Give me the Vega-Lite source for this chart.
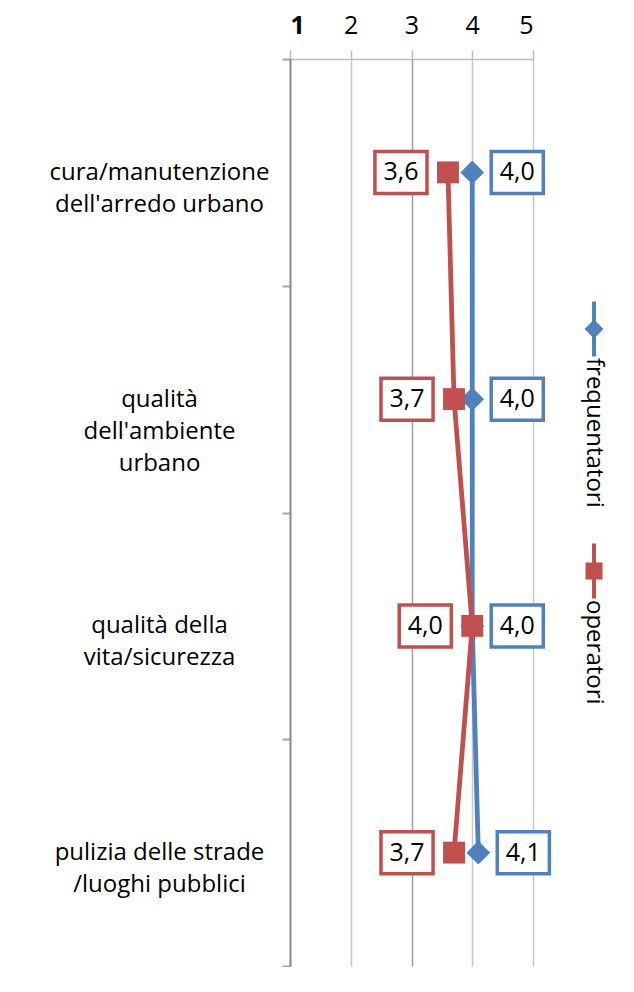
{
  "$schema": "https://vega.github.io/schema/vega-lite/v6.json",
  "padding": {"left": 49, "top": 13, "right": 20, "bottom": 0},
  "background": "white",
  "datasets": {
    "scores": [
      {"idx": 1, "cat": "cura/manutenzione\ndell'arredo urbano", "series": "frequentatori", "value": 4.0},
      {"idx": 2, "cat": "qualità\ndell'ambiente\nurbano", "series": "frequentatori", "value": 4.0},
      {"idx": 3, "cat": "qualità della\nvita/sicurezza", "series": "frequentatori", "value": 4.0},
      {"idx": 4, "cat": "pulizia delle strade\n/luoghi pubblici", "series": "frequentatori", "value": 4.1},
      {"idx": 1, "cat": "cura/manutenzione\ndell'arredo urbano", "series": "operatori", "value": 3.6},
      {"idx": 2, "cat": "qualità\ndell'ambiente\nurbano", "series": "operatori", "value": 3.7},
      {"idx": 3, "cat": "qualità della\nvita/sicurezza", "series": "operatori", "value": 4.0},
      {"idx": 4, "cat": "pulizia delle strade\n/luoghi pubblici", "series": "operatori", "value": 3.7}
    ],
    "series": [
      {"series": "frequentatori"},
      {"series": "operatori"}
    ]
  },
  "hconcat": [
    {
      "width": 243,
      "height": 907,
      "data": {"name": "scores"},
      "encoding": {
        "x": {
          "field": "value",
          "type": "quantitative",
          "scale": {"domain": [1, 5], "nice": false, "zero": false},
          "axis": {
            "orient": "top",
            "values": [1, 2, 3, 4, 5],
            "format": "d",
            "title": null,
            "labelFont": "Open Sans",
            "labelFontSize": 25,
            "labelFontWeight": {"condition": {"test": "datum.value == 1", "value": "bold"}, "value": "normal"},
            "labelColor": "#000000",
            "labelPadding": 12,
            "tickSize": 9,
            "tickColor": "#bdbdbd",
            "tickWidth": 1.5,
            "domainColor": "#bdbdbd",
            "domainWidth": 1.5,
            "grid": true,
            "gridColor": {"condition": {"test": "datum.value == 3", "value": "#9e9e9e"}, "value": "#c8c8c8"},
            "gridWidth": 1.5
          }
        },
        "y": {
          "field": "cat",
          "type": "nominal",
          "sort": null,
          "scale": {
            "type": "band",
            "domain": [
              "cura/manutenzione\ndell'arredo urbano",
              "qualità\ndell'ambiente\nurbano",
              "qualità della\nvita/sicurezza",
              "pulizia delle strade\n/luoghi pubblici"
            ],
            "paddingInner": 0,
            "paddingOuter": 0
          },
          "axis": {
            "title": null,
            "grid": false,
            "tickBand": "extent",
            "tickSize": 8,
            "tickColor": "#a6a6a6",
            "tickWidth": 2,
            "domainColor": "#8c8c8c",
            "domainWidth": 2,
            "labelExpr": "split(datum.label, '\\n')",
            "labelAlign": "center",
            "labelBaseline": "middle",
            "labelPadding": 123,
            "labelFont": "Open Sans",
            "labelFontSize": 24,
            "labelLineHeight": 32,
            "labelColor": "#000000",
            "labelLimit": 400
          }
        }
      },
      "layer": [
        {
          "mark": {"type": "line", "strokeWidth": 4.8},
          "encoding": {
            "color": {
              "field": "series",
              "type": "nominal",
              "scale": {"domain": ["frequentatori", "operatori"], "range": ["#4F81BD", "#C0504D"]},
              "legend": null
            },
            "order": {"field": "idx", "type": "quantitative"}
          }
        },
        {
          "mark": {"type": "point", "filled": true, "opacity": 1},
          "encoding": {
            "color": {
              "field": "series",
              "type": "nominal",
              "scale": {"domain": ["frequentatori", "operatori"], "range": ["#4F81BD", "#C0504D"]},
              "legend": null
            },
            "shape": {
              "field": "series",
              "type": "nominal",
              "scale": {"domain": ["frequentatori", "operatori"], "range": ["diamond", "square"]},
              "legend": null
            },
            "size": {
              "field": "series",
              "type": "nominal",
              "scale": {"domain": ["frequentatori", "operatori"], "range": [560, 480]},
              "legend": null
            }
          }
        },
        {
          "transform": [{"filter": "datum.series == 'operatori'"}],
          "mark": {
            "type": "point",
            "shape": "M-1.24,-1L1.24,-1L1.24,1L-1.24,1Z",
            "size": 1764,
            "filled": false,
            "fill": "#ffffff",
            "fillOpacity": 1,
            "stroke": "#C0504D",
            "strokeWidth": 3.5,
            "opacity": 1,
            "xOffset": -47
          }
        },
        {
          "transform": [{"filter": "datum.series == 'operatori'"}],
          "mark": {"type": "text", "font": "Open Sans", "fontSize": 25, "color": "#000000", "xOffset": -47, "baseline": "middle", "align": "center"},
          "encoding": {"text": {"field": "value", "type": "quantitative", "format": ".1f"}}
        },
        {
          "transform": [{"filter": "datum.series == 'frequentatori'"}],
          "mark": {
            "type": "point",
            "shape": "M-1.24,-1L1.24,-1L1.24,1L-1.24,1Z",
            "size": 1764,
            "filled": false,
            "fill": "#ffffff",
            "fillOpacity": 1,
            "stroke": "#4F81BD",
            "strokeWidth": 3.5,
            "opacity": 1,
            "xOffset": 45
          }
        },
        {
          "transform": [{"filter": "datum.series == 'frequentatori'"}],
          "mark": {"type": "text", "font": "Open Sans", "fontSize": 25, "color": "#000000", "xOffset": 45, "baseline": "middle", "align": "center"},
          "encoding": {"text": {"field": "value", "type": "quantitative", "format": ".1f"}}
        }
      ]
    },
    {
      "width": 20,
      "height": 726,
      "data": {"name": "series"},
      "encoding": {
        "y": {
          "field": "series",
          "type": "nominal",
          "sort": null,
          "scale": {"type": "point", "domain": ["frequentatori", "operatori"], "padding": 1},
          "axis": null
        }
      },
      "layer": [
        {
          "mark": {"type": "point", "shape": "M0,-1L0,1", "size": 3025, "filled": false, "strokeWidth": 4, "opacity": 1, "yOffset": 28},
          "encoding": {
            "stroke": {
              "field": "series",
              "type": "nominal",
              "scale": {"domain": ["frequentatori", "operatori"], "range": ["#4F81BD", "#C0504D"]},
              "legend": null
            }
          }
        },
        {
          "mark": {"type": "point", "filled": true, "opacity": 1, "yOffset": 28},
          "encoding": {
            "fill": {
              "field": "series",
              "type": "nominal",
              "scale": {"domain": ["frequentatori", "operatori"], "range": ["#4F81BD", "#C0504D"]},
              "legend": null
            },
            "shape": {
              "field": "series",
              "type": "nominal",
              "scale": {"domain": ["frequentatori", "operatori"], "range": ["diamond", "square"]},
              "legend": null
            },
            "size": {
              "field": "series",
              "type": "nominal",
              "scale": {"domain": ["frequentatori", "operatori"], "range": [360, 290]},
              "legend": null
            }
          }
        },
        {
          "mark": {"type": "text", "angle": 90, "align": "left", "baseline": "middle", "yOffset": 57, "font": "Open Sans", "fontSize": 24, "color": "#000000"},
          "encoding": {"text": {"field": "series", "type": "nominal"}}
        }
      ]
    }
  ],
  "spacing": 25,
  "resolve": {"scale": {"size": "independent", "color": "independent", "shape": "independent", "fill": "independent", "stroke": "independent"}},
  "config": {
    "locale": {"number": {"decimal": ",", "thousands": ".", "grouping": [3], "currency": ["", " €"]}},
    "view": {"stroke": null},
    "font": "Open Sans"
  }
}
